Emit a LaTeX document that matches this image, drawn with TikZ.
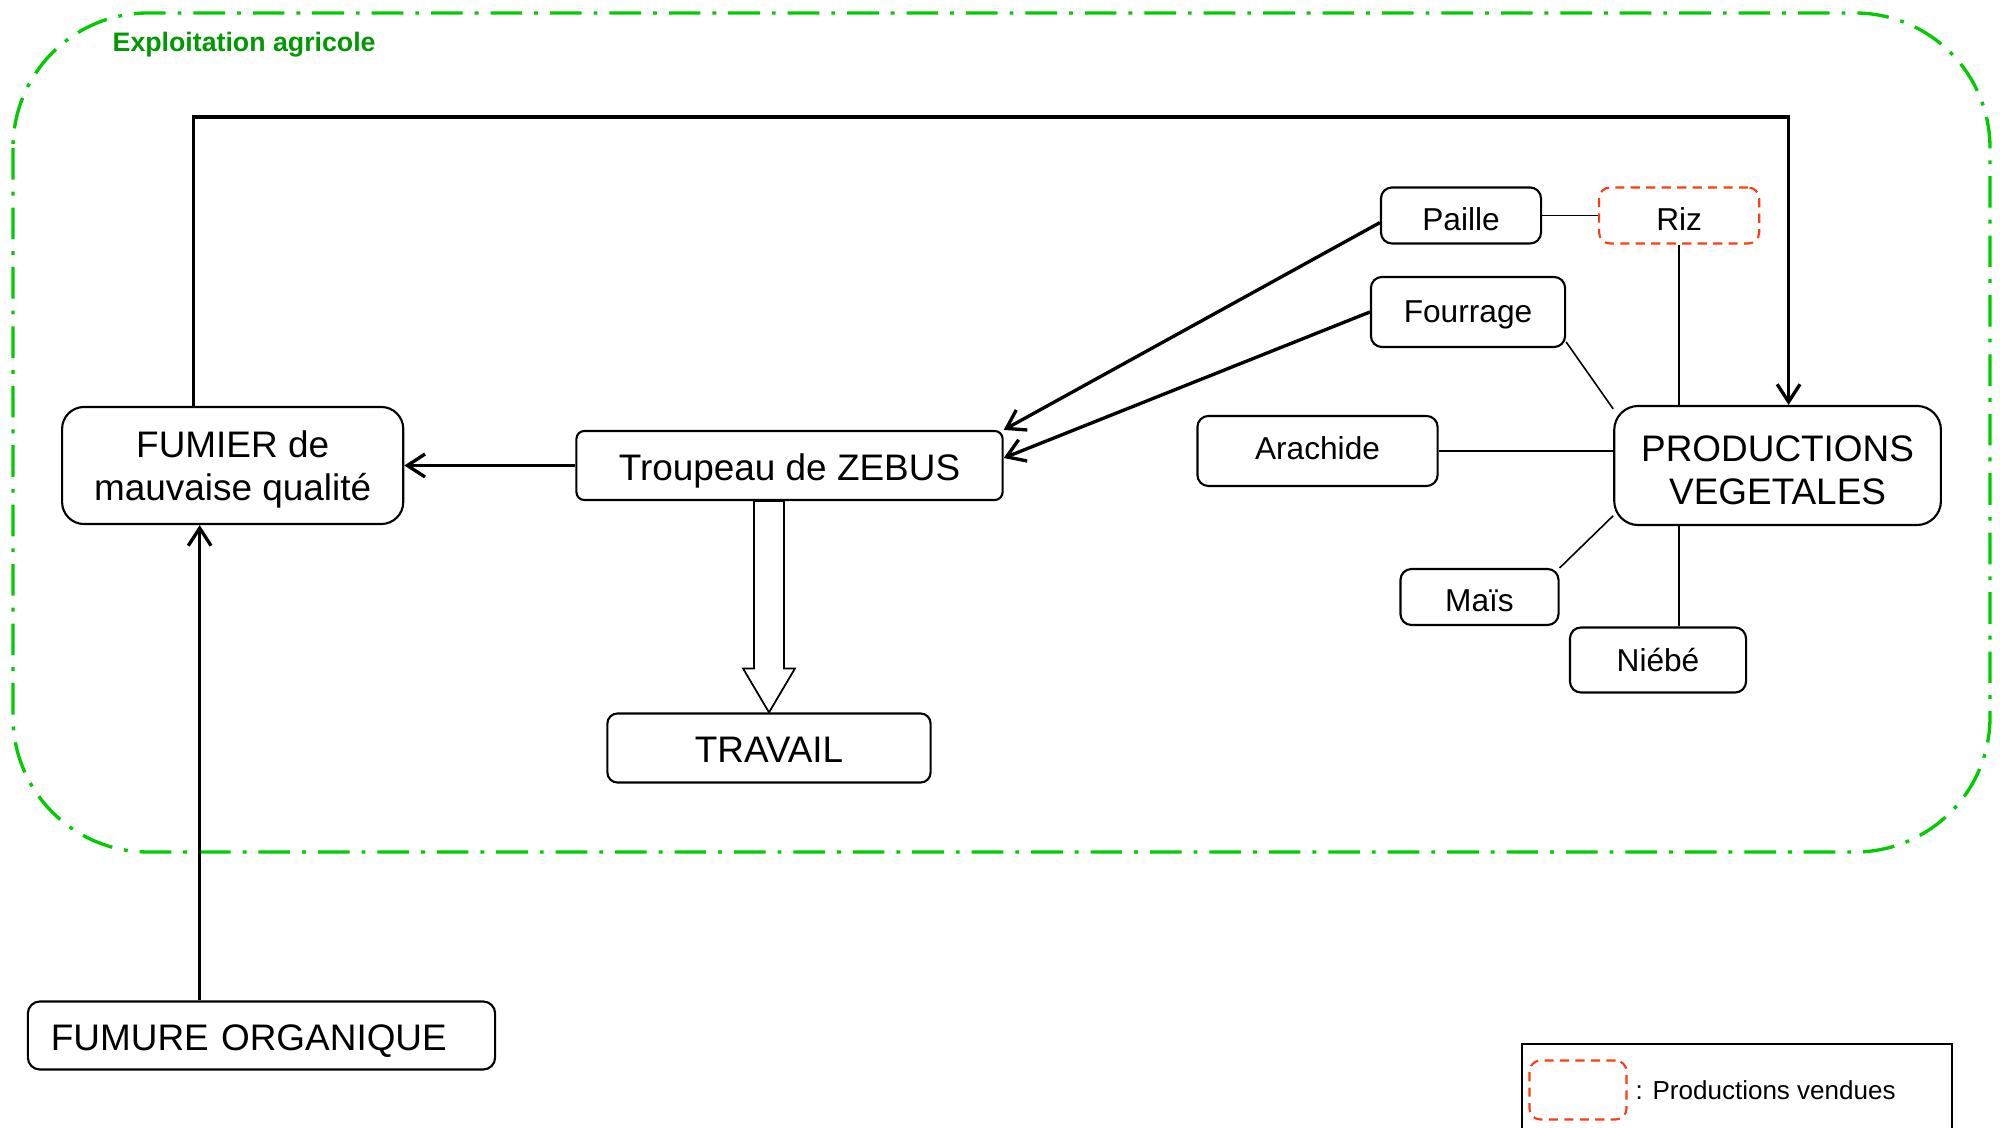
\documentclass[tikz,border=0pt]{standalone}
\usepackage{fontspec}
\setmainfont{Liberation Sans}
\usepackage{tikz}
\usetikzlibrary{calc,arrows.meta}
\usepackage{xcolor}
\definecolor{farmgreen}{RGB}{0,204,0}
\definecolor{farmlabel}{RGB}{0,153,0}
\definecolor{soldred}{RGB}{255,59,16}

\begin{document}
\begin{tikzpicture}[x=0.01cm, y=-0.01cm,
        >={Straight Barb[length=5pt,width=6.5pt]},
        box/.style={draw, line width=0.6pt, inner sep=0pt, align=center, font=\fontsize{10.5}{12.3}\selectfont},
        oneline/.style={text height=1.05em, text depth=0.2em},
        crop/.style={draw, line width=0.6pt, rounded corners=1.1mm, inner sep=0pt, text height=1.05em, text depth=0.2em, font=\fontsize{9}{11}\selectfont},
        sold/.style={draw=soldred, line width=0.6pt, dash pattern=on 2.6pt off 1.8pt, rounded corners=1.1mm, inner sep=0pt},
        flow/.style={->, line width=0.95pt},
        link/.style={line width=0.45pt}]
        \useasboundingbox (0,0) rectangle (2000,1128);

        % exploitation
        \draw[farmgreen, line width=0.95pt, rounded corners=1.35cm, dash pattern=on 9pt off 3.4pt on 1.1pt off 3.4pt] (13,13) rectangle (1990,852);
        \node (farm) [anchor=west, inner sep=0pt, text=farmlabel, font=\fontsize{7.6}{9}\selectfont\bfseries] at (112,45) {Exploitation agricole};

        \node (troupeau) [box, oneline, rounded corners=0.8mm, minimum width=4.26cm, minimum height=0.69cm] at (789.5,465.5) {Troupeau de ZEBUS};
        \node (fumier) [box, rounded corners=2.2mm, text height=22.2pt, minimum width=3.41cm, minimum height=1.17cm, left of=troupeau, node distance=5.565cm] {FUMIER de\\mauvaise qualité};
        \node (travail) [box, oneline, rounded corners=1mm, minimum width=3.23cm, minimum height=0.69cm] at (769,748) {TRAVAIL};
        \node (productions) [box, rounded corners=2.4mm, text height=22.2pt, minimum width=3.265cm, minimum height=1.19cm, right of=troupeau, node distance=9.875cm] {PRODUCTIONS\\VEGETALES};
        \node (fumure) [box, oneline, rounded corners=1.2mm, align=left, text width=4.21cm, inner xsep=0.23cm, minimum height=0.68cm] at (261.5,1035.5) {FUMURE ORGANIQUE};

        \node (paille) [crop, minimum width=1.6cm, minimum height=0.56cm] at (1461,215.5) {Paille};
        \node (riz) [sold, text height=1.05em, text depth=0.2em, font=\fontsize{9}{11}\selectfont, minimum width=1.6cm, minimum height=0.56cm, right of=paille, node distance=2.18cm] {Riz};
        \node (fourrage) [crop, text depth=4.7pt, minimum width=1.94cm, minimum height=0.7cm] at (1468,312) {Fourrage};
        \node (arachide) [crop, text depth=5.4pt, minimum width=2.4cm, minimum height=0.7cm] at (1317.5,451) {Arachide};
        \node (mais) [crop, minimum width=1.58cm, minimum height=0.56cm] at (1479.5,597) {Maïs};
        \node (niebe) [crop, text depth=4pt, minimum width=1.76cm, minimum height=0.65cm] at (1658,660) {Niébé};

        % fumier -> cultures
        \coordinate (loopL) at ($(fumier.north)+(-39,0)$);
        \coordinate (loopR) at ($(productions.north)+(11,0)$);
        \draw[flow] (loopL) -- ++(0,-289) -| (loopR);

        \draw[flow] (troupeau.west) -- (fumier.east);
        \draw[flow] (paille.185) -- (troupeau.north east);
        \draw[flow] (fourrage.west) -- (troupeau.2);

        \coordinate (upin) at ($(fumier.south)+(-33,0)$);
        \draw[flow] (upin |- fumure.north) -- (upin);

        \coordinate (shafttop) at (travail.north |- troupeau.south);
        \draw[line width=0.5pt] (travail.north) -- ++(-26,-44) -- ++(11,0) -- ($(shafttop)+(-15,0)$) -- ($(shafttop)+(15,0)$) -- ($(travail.north)+(15,-44)$) -- ++(11,0) -- cycle;

        \draw[link] (paille.east) -- (riz.west);
        \draw[link] (riz.south) -- (riz.south |- productions.north);
        \draw[link] (fourrage.-17) -- (productions.161);
        \draw[link] (arachide.east) -- (arachide.east -| productions.west);
        \draw[link] (mais.north east) -- (productions.197);
        \draw[link] (riz.south |- productions.south) -- (riz.south |- niebe.north);

        % legende
        \node (legend) [draw, line width=0.5pt, anchor=north west, minimum width=4.3cm, minimum height=1.5cm] at (1521,1043) {};
        \node (legsample) [sold, minimum width=0.97cm, minimum height=0.59cm] at (1578,1090) {};
        \node (legtext) [anchor=west, inner sep=0pt, font=\fontsize{7.4}{9}\selectfont] at (1635,1090) {: Productions vendues};
    \end{tikzpicture}
\end{document}
